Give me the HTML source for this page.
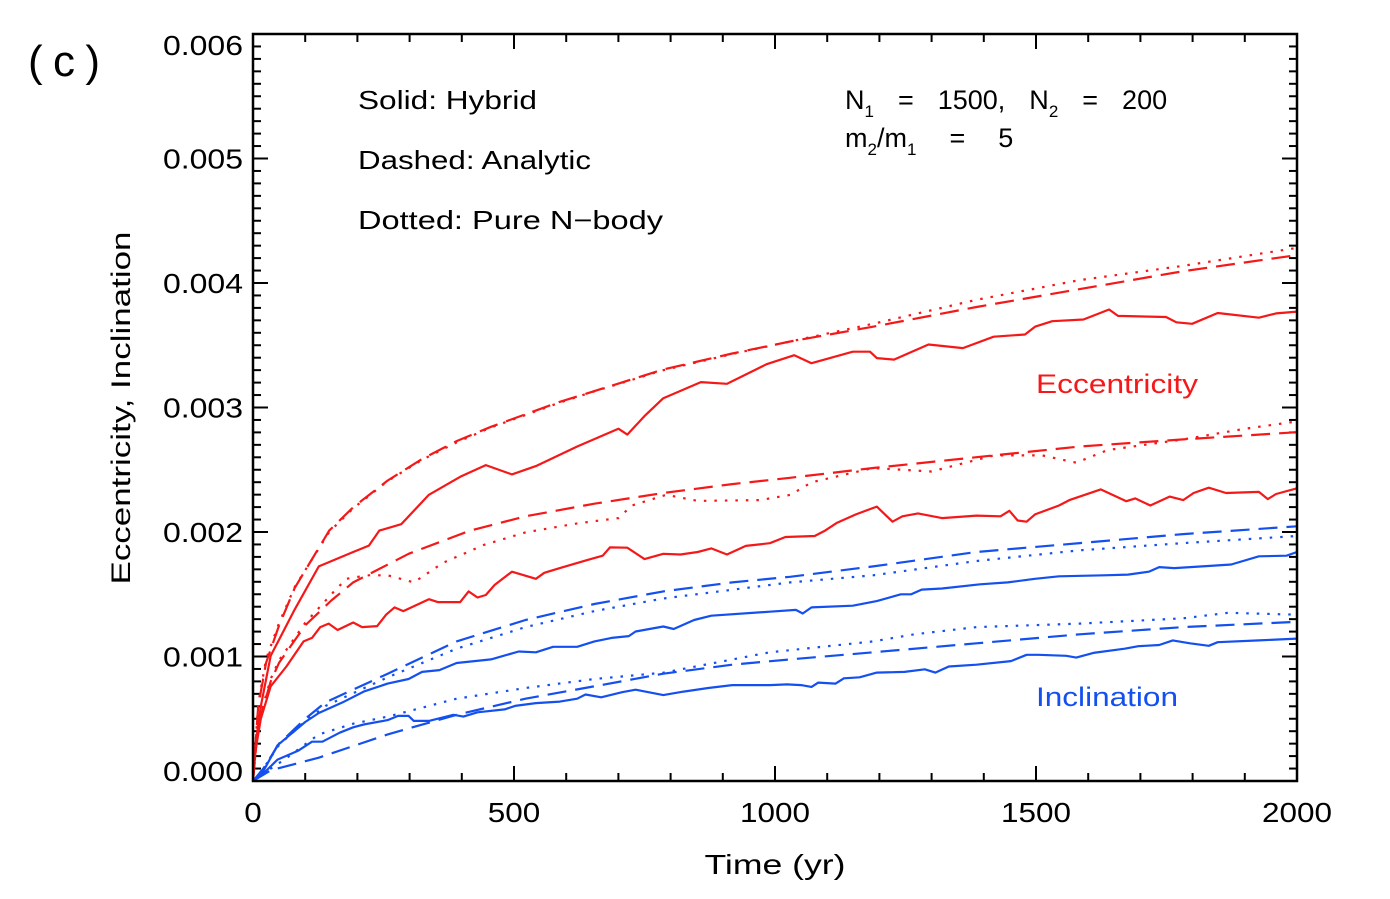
<!DOCTYPE html>
<html><head><meta charset="utf-8">
<style>
html,body{margin:0;padding:0;background:#fff;}
svg{display:block;}
text{font-family:"Liberation Sans","DejaVu Sans",sans-serif;}
</style></head>
<body>
<svg id="chart" width="1390" height="899" viewBox="0 0 1390 899" xmlns="http://www.w3.org/2000/svg">
  <rect x="0" y="0" width="1390" height="899" fill="#fff"/>
  <text x="28" y="76" font-size="44" fill="#000" textLength="72" lengthAdjust="spacing">(c)</text>
  <g id="axes"></g>
  <g id="series"></g>
  <rect x="253" y="34" width="1044" height="747" fill="none" stroke="#000" stroke-width="2.5"/>
  <text transform="translate(130,408) rotate(-90)" text-anchor="middle" font-size="27" fill="#000" textLength="353" lengthAdjust="spacingAndGlyphs">Eccentricity,  Inclination</text>
  <text x="775" y="874" text-anchor="middle" font-size="28" fill="#000" textLength="141" lengthAdjust="spacingAndGlyphs">Time  (yr)</text>
  <text x="358" y="109" font-size="26" fill="#000" textLength="179" lengthAdjust="spacingAndGlyphs">Solid:  Hybrid</text>
  <text x="358" y="169" font-size="26" fill="#000" textLength="233" lengthAdjust="spacingAndGlyphs">Dashed:  Analytic</text>
  <text x="358" y="229" font-size="26" fill="#000" textLength="305" lengthAdjust="spacingAndGlyphs">Dotted:  Pure  N−body</text>
  <text x="845" y="109" font-size="27" fill="#000" word-spacing="4.5">N<tspan font-size="17" dy="8">1</tspan><tspan dy="-8"> &#160;= &#160;1500, &#160;N</tspan><tspan font-size="17" dy="8">2</tspan><tspan dy="-8"> &#160;= &#160;200</tspan></text>
  <text x="845" y="147" font-size="27" fill="#000" word-spacing="9">m<tspan font-size="17" dy="8">2</tspan><tspan dy="-8">/m</tspan><tspan font-size="17" dy="8">1</tspan><tspan dy="-8"> &#160;= &#160;5</tspan></text>
  <text x="1036" y="393" font-size="27" fill="#f51818" textLength="162" lengthAdjust="spacingAndGlyphs">Eccentricity</text>
  <text x="1036" y="706" font-size="27" fill="#1450f0" textLength="142" lengthAdjust="spacingAndGlyphs">Inclination</text>
</svg>
<script>
const xTicks=[0,500,1000,1500,2000];
const xTickLabels=["0","500","1000","1500","2000"];
const yTicks=[0,0.001,0.002,0.003,0.004,0.005,0.006];
const yTickLabels=["0.000","0.001","0.002","0.003","0.004","0.005","0.006"];

// values in units of 1e-3
const e1HybT=[0,5,15,34,80,126,192,222,242,284,337,397,446,496,542,621,700,717,750,786,858,908,984,1037,1070,1149,1182,1195,1228,1294,1360,1419,1479,1498,1531,1591,1640,1657,1749,1769,1799,1848,1927,1960,2000];
const e1HybV=[0,0.3,0.6,1.006,1.379,1.724,1.839,1.891,2.011,2.063,2.299,2.443,2.537,2.463,2.529,2.687,2.83,2.782,2.931,3.075,3.204,3.19,3.348,3.42,3.356,3.448,3.448,3.397,3.385,3.506,3.477,3.569,3.586,3.649,3.693,3.707,3.787,3.736,3.727,3.684,3.672,3.759,3.721,3.756,3.77];
const e1AnaT=[0,10,25,50,80,146,192,258,324,390,456,522,588,654,786,918,1029,1188,1386,1584,1782,2000];
const e1AnaV=[0,0.6,0.95,1.25,1.552,2.011,2.198,2.414,2.586,2.73,2.845,2.945,3.046,3.132,3.305,3.434,3.53,3.649,3.807,3.951,4.095,4.224];
const e1NbT=[0,10,25,50,80,146,192,258,324,390,456,522,588,654,786,918,1029,1188,1386,1584,1782,2000];
const e1NbV=[0,0.62,0.98,1.27,1.56,2.0,2.19,2.41,2.58,2.72,2.84,2.94,3.04,3.13,3.30,3.43,3.53,3.672,3.865,4.023,4.138,4.282];
const e2HybT=[0,5,15,34,64,97,113,129,145,162,192,209,238,255,271,288,337,354,397,413,430,446,463,496,542,558,588,641,670,684,717,750,786,819,852,878,908,944,990,1020,1076,1096,1119,1155,1195,1225,1244,1274,1320,1386,1432,1449,1465,1482,1498,1544,1564,1624,1673,1690,1719,1756,1782,1802,1831,1864,1927,1944,1960,2000];
const e2HybV=[0,0.25,0.5,0.761,0.92,1.121,1.149,1.236,1.264,1.213,1.273,1.236,1.244,1.336,1.394,1.365,1.46,1.437,1.437,1.523,1.474,1.494,1.575,1.681,1.624,1.672,1.71,1.776,1.81,1.876,1.874,1.782,1.825,1.819,1.839,1.868,1.819,1.888,1.91,1.96,1.968,2.011,2.075,2.141,2.204,2.083,2.126,2.149,2.112,2.132,2.126,2.17,2.092,2.083,2.141,2.213,2.256,2.342,2.247,2.27,2.213,2.284,2.256,2.313,2.356,2.313,2.322,2.264,2.305,2.351];
const e2AnaT=[0,10,34,50,100,150,192,298,416,522,654,786,918,1029,1188,1386,1584,1782,2000];
const e2AnaV=[0,0.45,0.8,0.95,1.25,1.45,1.595,1.825,2.011,2.126,2.227,2.313,2.385,2.435,2.514,2.601,2.687,2.744,2.802];
const e2NbT=[0,10,34,50,100,150,179,219,258,308,364,443,522,621,700,726,792,852,971,1030,1070,1188,1300,1419,1512,1577,1637,1782,1901,2000];
const e2NbV=[0,0.47,0.82,0.97,1.27,1.5,1.624,1.652,1.652,1.595,1.753,1.897,1.997,2.069,2.112,2.213,2.299,2.25,2.256,2.299,2.399,2.514,2.486,2.615,2.615,2.557,2.658,2.744,2.83,2.888];
const i1HybT=[0,20,47,100,126,172,212,258,298,324,357,390,456,509,542,575,621,654,687,720,733,786,806,845,878,990,1040,1053,1070,1149,1195,1241,1261,1281,1320,1393,1446,1498,1544,1630,1676,1716,1736,1765,1841,1874,1927,1980,2000];
const i1HybV=[0,0.08,0.287,0.474,0.546,0.632,0.718,0.782,0.819,0.876,0.891,0.948,0.977,1.04,1.034,1.078,1.078,1.121,1.149,1.164,1.201,1.241,1.221,1.293,1.328,1.36,1.374,1.345,1.394,1.408,1.445,1.5,1.5,1.537,1.546,1.58,1.595,1.624,1.644,1.652,1.658,1.681,1.718,1.71,1.73,1.739,1.805,1.81,1.839];
const i1AnaT=[0,20,50,100,139,258,390,522,654,786,918,1029,1188,1386,1584,1782,2000];
const i1AnaV=[0,0.1,0.3,0.5,0.632,0.862,1.121,1.293,1.422,1.523,1.595,1.64,1.724,1.839,1.911,1.983,2.046];
const i1NbT=[0,20,50,100,139,258,390,522,654,786,1029,1188,1386,1584,1782,2000];
const i1NbV=[0,0.1,0.29,0.48,0.603,0.833,1.063,1.236,1.365,1.466,1.595,1.652,1.767,1.853,1.911,1.968];
const i2HybT=[0,20,47,87,113,133,166,192,212,258,278,298,308,337,384,403,430,482,502,542,588,621,637,667,707,733,786,825,872,918,990,1023,1050,1070,1083,1116,1132,1162,1195,1248,1287,1307,1333,1386,1452,1482,1505,1558,1577,1610,1670,1696,1736,1762,1795,1831,1848,1927,2000];
const i2HybV=[0,0.06,0.172,0.244,0.316,0.316,0.388,0.431,0.454,0.489,0.523,0.523,0.483,0.483,0.532,0.517,0.552,0.575,0.603,0.626,0.638,0.661,0.695,0.672,0.713,0.733,0.69,0.718,0.747,0.77,0.77,0.776,0.77,0.756,0.79,0.782,0.825,0.833,0.871,0.876,0.897,0.871,0.92,0.934,0.963,1.014,1.014,1.006,0.991,1.029,1.063,1.083,1.092,1.129,1.106,1.086,1.115,1.129,1.144];
const i2AnaT=[0,34,126,258,390,522,654,786,918,1029,1188,1386,1584,1782,2000];
const i2AnaV=[0,0.086,0.187,0.374,0.532,0.661,0.761,0.862,0.934,0.977,1.034,1.106,1.178,1.236,1.279];
const i2NbT=[0,20,60,126,192,258,390,522,654,786,990,1188,1267,1386,1584,1782,1868,2000];
const i2NbV=[0,0.06,0.172,0.374,0.46,0.517,0.661,0.747,0.819,0.87,1.034,1.121,1.178,1.236,1.264,1.307,1.351,1.336];

const X0=253,X1=1297,Y0=781,Y1=34;
function xs(t){return X0+(t/2000)*(X1-X0);}
function ys(v){return Y0-(v/0.006)*(Y0-Y1);}
const NS="http://www.w3.org/2000/svg";
const axes=document.getElementById('axes');
const series=document.getElementById('series');
function mk(tag,attrs,parent){const e=document.createElementNS(NS,tag);for(const k in attrs)e.setAttribute(k,attrs[k]);parent.appendChild(e);return e;}

for(let t=0;t<=2000;t+=100){
  const major=(t%500===0);const L=major?15:8;const x=xs(t);
  const a=mk('line',{x1:x,x2:x,y1:Y0,y2:Y0-L,stroke:'#000','stroke-width':2},axes);
  
  
  const b=mk('line',{x1:x,x2:x,y1:Y1,y2:Y1+L,stroke:'#000','stroke-width':2},axes);
  
  
}
xTicks.forEach((t,i)=>{
  const s=xTickLabels[i];
  const tx=mk('text',{x:xs(t),y:822,'text-anchor':'middle','font-size':28,fill:'#000',textLength:(s.length*17.5),lengthAdjust:'spacingAndGlyphs'},axes);
  tx.textContent=s;
  
  
});
for(let k=0;k<=60;k++){
  const v=k*0.0001;const major=(k%10===0);const L=major?15:8;const y=ys(v);
  const a=mk('line',{x1:X0,x2:X0+L,y1:y,y2:y,stroke:'#000','stroke-width':2},axes);
  
  
  const b=mk('line',{x1:X1,x2:X1-L,y1:y,y2:y,stroke:'#000','stroke-width':2},axes);
  
  
}
yTicks.forEach((v,i)=>{
  let y=ys(v)+10;
  if(i===0) y=781;
  if(i===yTicks.length-1) y=55;
  const tx=mk('text',{x:163,y:y,'font-size':28,fill:'#000',textLength:80,lengthAdjust:'spacingAndGlyphs'},axes);
  tx.textContent=yTickLabels[i];
  
  
});

const RED='#f51818',BLUE='#1450f0';
function draw(T,V,color,style,name){
  const d=T.map((t,i)=>(i?'L':'M')+xs(t).toFixed(1)+','+ys(V[i]*0.001).toFixed(1)).join(' ');
  const attrs={d:d,fill:'none',stroke:color,'stroke-width':2.2,'stroke-linejoin':'round'};
  if(style==='dash'){attrs['stroke-dasharray']='19 9';}
  if(style==='dot'){attrs['stroke-dasharray']='2.5 8';attrs['stroke-linecap']='butt';}
  const p=mk('path',attrs,series);
  
  
}
draw(e1AnaT,e1AnaV,RED,'dash','ecc-analytic-1');
draw(e1NbT,e1NbV,RED,'dot','ecc-nbody-1');
draw(e1HybT,e1HybV,RED,'solid','ecc-hybrid-1');
draw(e2AnaT,e2AnaV,RED,'dash','ecc-analytic-2');
draw(e2NbT,e2NbV,RED,'dot','ecc-nbody-2');
draw(e2HybT,e2HybV,RED,'solid','ecc-hybrid-2');
draw(i1AnaT,i1AnaV,BLUE,'dash','inc-analytic-1');
draw(i1NbT,i1NbV,BLUE,'dot','inc-nbody-1');
draw(i1HybT,i1HybV,BLUE,'solid','inc-hybrid-1');
draw(i2AnaT,i2AnaV,BLUE,'dash','inc-analytic-2');
draw(i2NbT,i2NbV,BLUE,'dot','inc-nbody-2');
draw(i2HybT,i2HybV,BLUE,'solid','inc-hybrid-2');
</script>
</body></html>
